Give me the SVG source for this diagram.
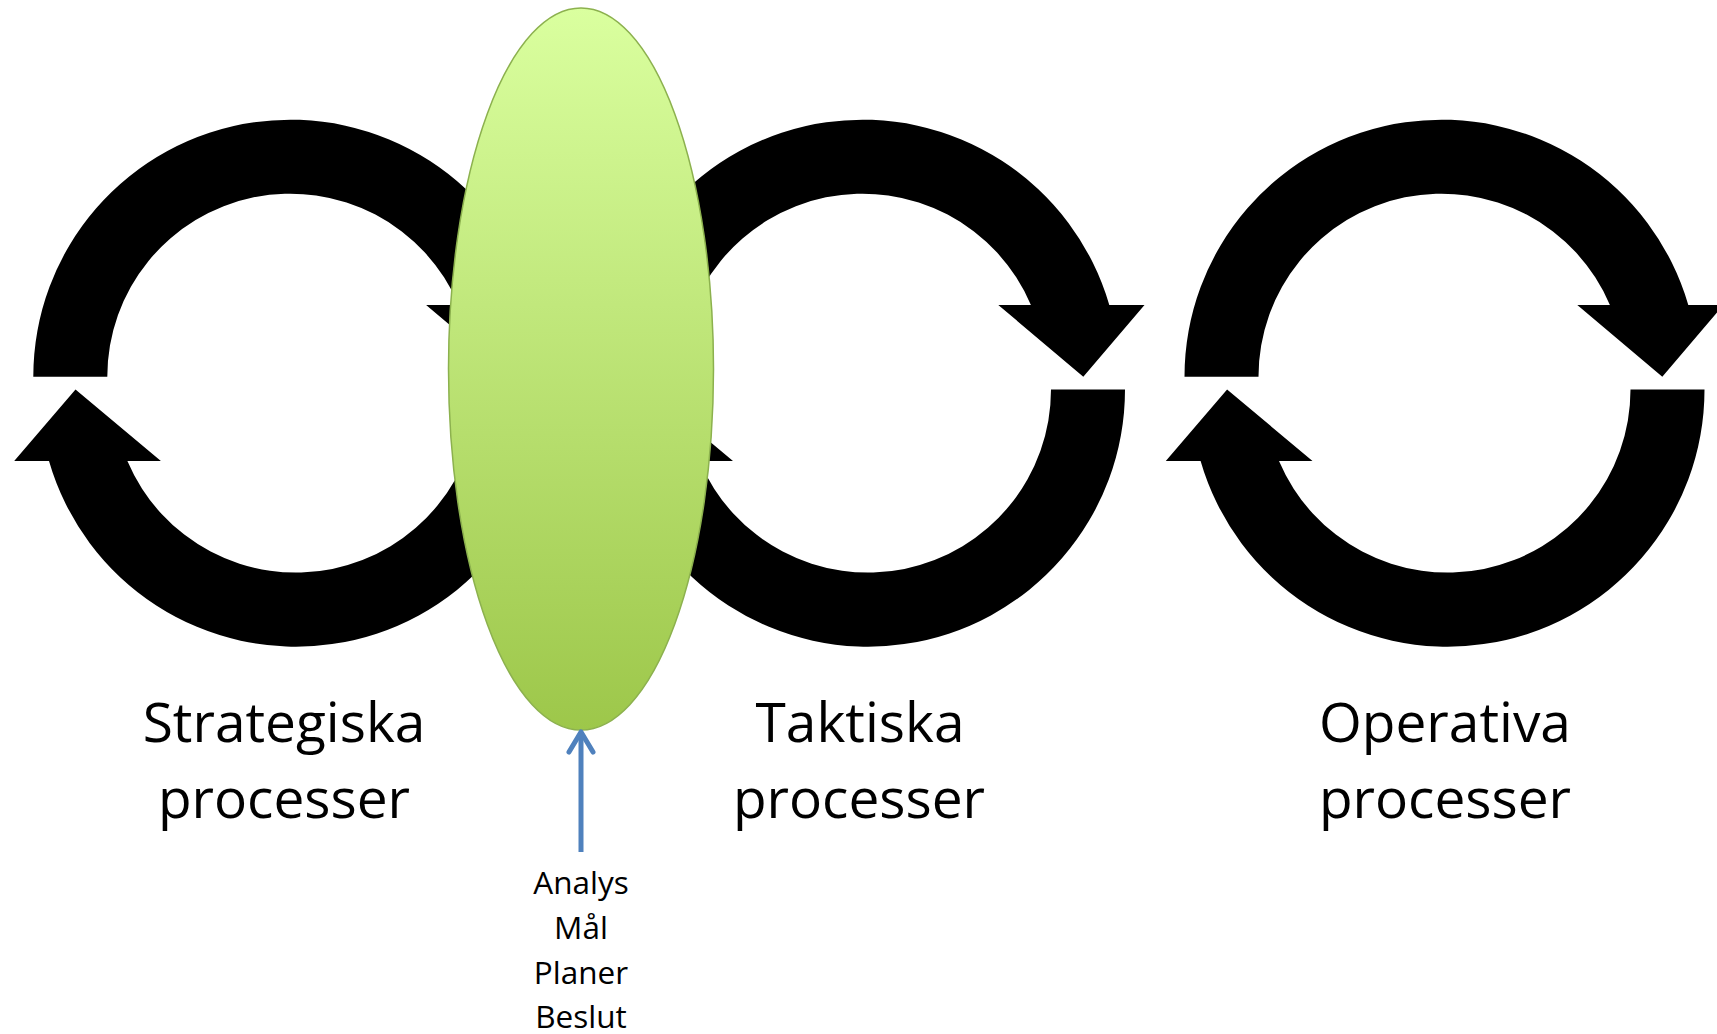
<svg xmlns="http://www.w3.org/2000/svg" xmlns:xlink="http://www.w3.org/1999/xlink" width="1717" height="1034" viewBox="0 0 1717 1034">
  <style>
    .arc { fill: #000000; }
    .big { font-family: "Open Sans", "Liberation Sans", sans-serif; font-size: 55px; fill: #000000; text-anchor: middle; }
    .small { font-family: "Open Sans", "Liberation Sans", sans-serif; font-size: 31.5px; fill: #000000; text-anchor: middle; }
    .conn { fill: none; stroke: #4F81BD; stroke-width: 5; }
  </style>
  <defs>
    <path id="topArc" class="arc" d="M-257,0 A257,257 0 0 1 246.8,-71.7 L282,-71.7 L220.8,0 L135.8,-71.7 L168.4,-71.7 A183,183 0 0 0 -183,0 Z"/>
    <path id="bottomArc" class="arc" d="M257,0 A257,257 0 0 1 -246.9,71.5 L-281.7,71.5 L-220.4,0 L-135,71.5 L-168.5,71.5 A183,183 0 0 0 183,0 Z"/>
    <linearGradient id="greenGrad" x1="0" y1="0" x2="0" y2="1">
      <stop offset="0" stop-color="#DAFF9F"/>
      <stop offset="1" stop-color="#9DC74A"/>
    </linearGradient>
  </defs>

  <g id="cycle-strategiska">
    <use xlink:href="#topArc" href="#topArc" transform="translate(290.3,376.7)"/>
    <use xlink:href="#bottomArc" href="#bottomArc" transform="translate(295.9,389.5)"/>
  </g>
  <g id="cycle-taktiska">
    <use xlink:href="#topArc" href="#topArc" transform="translate(862.5,376.7)"/>
    <use xlink:href="#bottomArc" href="#bottomArc" transform="translate(868,389.5)"/>
  </g>
  <g id="cycle-operativa">
    <use xlink:href="#topArc" href="#topArc" transform="translate(1441.5,376.7)"/>
    <use xlink:href="#bottomArc" href="#bottomArc" transform="translate(1447.5,389.5)"/>
  </g>

  <g id="ellipse-node">
    <ellipse cx="581" cy="369" rx="132.5" ry="361" fill="url(#greenGrad)" stroke="#8CB14E" stroke-width="1.5"/>
  </g>

  <g id="connectors">
    <line class="conn" x1="581" y1="852" x2="581" y2="734"/>
    <polyline class="conn" points="569,752 581,732 593,752" stroke-linecap="round" stroke-linejoin="round"/>
  </g>

  <g id="label-strategiska">
    <text class="big" x="284" y="742">Strategiska</text>
    <text class="big" x="284" y="818">processer</text>
  </g>
  <g id="label-taktiska">
    <text class="big" x="860" y="742">Taktiska</text>
    <text class="big" x="859" y="818">processer</text>
  </g>
  <g id="label-operativa">
    <text class="big" x="1445" y="742">Operativa</text>
    <text class="big" x="1445" y="818">processer</text>
  </g>
  <g id="label-input">
    <text class="small" x="581" y="894">Analys</text>
    <text class="small" x="581" y="939">Mål</text>
    <text class="small" x="581" y="984">Planer</text>
    <text class="small" x="581" y="1028">Beslut</text>
  </g>
</svg>
